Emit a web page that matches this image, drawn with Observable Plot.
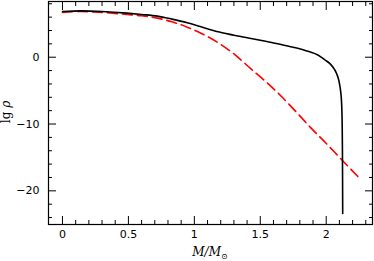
<!DOCTYPE html>
<html>
<head>
<meta charset="utf-8">
<script src="https://cdn.jsdelivr.net/npm/d3@7"></script>
<script src="https://cdn.jsdelivr.net/npm/@observablehq/plot@0.6"></script>
<style>
  html, body { margin: 0; padding: 0; background: white; }
</style>
</head>
<body>
<div id="chart"></div>
<script>
// Solid black curve
const blackM   = [0, 0.14, 0.3, 0.49, 0.6, 0.72, 0.83, 0.946, 1.05, 1.17, 1.3, 1.43, 1.55, 1.65, 1.75, 1.86, 1.94, 1.99, 2.03, 2.06, 2.08, 2.096, 2.106, 2.113, 2.118, 2.121, 2.123, 2.124, 2.125];
const blackRho = [6.85, 6.94, 6.85, 6.6, 6.4, 6.15, 5.7, 5.15, 4.55, 3.85, 3.3, 2.8, 2.35, 1.95, 1.5, 0.9, 0.3, -0.4, -1.0, -1.75, -2.5, -3.5, -4.6, -5.8, -7.5, -10, -14, -18, -23.4];
// Dashed red curve
const redM   = [0, 0.14, 0.3, 0.49, 0.6, 0.72, 0.83, 0.946, 1.05, 1.17, 1.3, 1.43, 1.55, 1.653, 1.754, 1.88, 2.01, 2.125, 2.247];
const redRho = [6.7, 6.85, 6.7, 6.4, 6.2, 5.85, 5.3, 4.5, 3.6, 2.3, 0.5, -1.75, -3.8, -5.73, -7.8, -10.5, -13.1, -15.5, -18.0];

// Ticks
const xMajor = [0, 0.5, 1, 1.5, 2];
const xMajorLabels = ["0", "0.5", "1", "1.5", "2"];
const xMinor = [0.1, 0.2, 0.3, 0.4, 0.6, 0.7, 0.8, 0.9, 1.1, 1.2, 1.3, 1.4, 1.6, 1.7, 1.8, 1.9, 2.1, 2.2, 2.3];
const yMajor = [-20, -10, 0];
const yMajorLabels = ["\u221220", "\u221210", "0"];
const yMinor = [-24, -22, -18, -16, -14, -12, -8, -6, -4, -2, 2, 4, 6, 8];

const black = blackM.map((m, i) => ({m, rho: blackRho[i]}));
const red = redM.map((m, i) => ({m, rho: redRho[i]}));

const tickStyle = {stroke: "black", strokeWidth: 1, text: null, label: null};

const chart = Plot.plot({
  width: 374,
  height: 261,
  marginLeft: 48,
  marginRight: 2,
  marginTop: 1,
  marginBottom: 37,
  x: {domain: [-0.106, 2.351]},
  y: {domain: [-25.04, 8.34]},
  style: {fontFamily: "DejaVu Sans", fontSize: "11px", background: "white", color: "black"},
  marks: [
    Plot.line(red, {x: "m", y: "rho", stroke: "#ff0000", strokeWidth: 1.6, strokeDasharray: "10,5", curve: "monotone-x"}),
    Plot.line(black, {x: "m", y: "rho", stroke: "black", strokeWidth: 1.6, curve: "monotone-x"}),
    Plot.frame({stroke: "black", strokeWidth: 1.2}),
    Plot.axisX(xMajor, {anchor: "bottom", tickSize: -8, ...tickStyle}),
    Plot.axisX(xMinor, {anchor: "bottom", tickSize: -4, ...tickStyle}),
    Plot.axisX(xMajor, {anchor: "top", tickSize: -8, ...tickStyle}),
    Plot.axisX(xMinor, {anchor: "top", tickSize: -4, ...tickStyle}),
    Plot.axisY(yMajor, {anchor: "left", tickSize: -8, ...tickStyle}),
    Plot.axisY(yMinor, {anchor: "left", tickSize: -4, ...tickStyle}),
    Plot.axisY(yMajor, {anchor: "right", tickSize: -8, ...tickStyle}),
    Plot.axisY(yMinor, {anchor: "right", tickSize: -4, ...tickStyle}),
    Plot.axisX(xMajor, {anchor: "bottom", tickSize: 0, tickPadding: 6, label: null,
      tickFormat: (d) => xMajorLabels[xMajor.indexOf(d)]}),
    Plot.axisY(yMajor, {anchor: "left", tickSize: 0, tickPadding: 9, label: null,
      tickFormat: (d) => yMajorLabels[yMajor.indexOf(d)]})
  ]
});

document.getElementById("chart").appendChild(chart);

const svg = d3.select(chart);
// y label: lg rho (rotated)
const yl = svg.append("text")
  .attr("transform", "translate(6,112) rotate(-90)")
  .attr("text-anchor", "middle")
  .attr("dominant-baseline", "central")
  .style("font-family", "DejaVu Serif")
  .style("font-size", "12px")
  .attr("fill", "black");
yl.append("tspan").text("lg ");
yl.append("tspan").style("font-style", "italic").text("\u03c1");

// x label: M/M_sun
const xl = svg.append("text")
  .attr("x", 210)
  .attr("y", 256)
  .attr("text-anchor", "middle")
  .style("font-family", "DejaVu Serif")
  .style("font-size", "12px")
  .style("font-style", "italic")
  .attr("fill", "black");
xl.append("tspan").text("M/M");
xl.append("tspan").attr("dy", 3).style("font-size", "8px").style("font-style", "normal").text("\u2299");
</script>
</body>
</html>
